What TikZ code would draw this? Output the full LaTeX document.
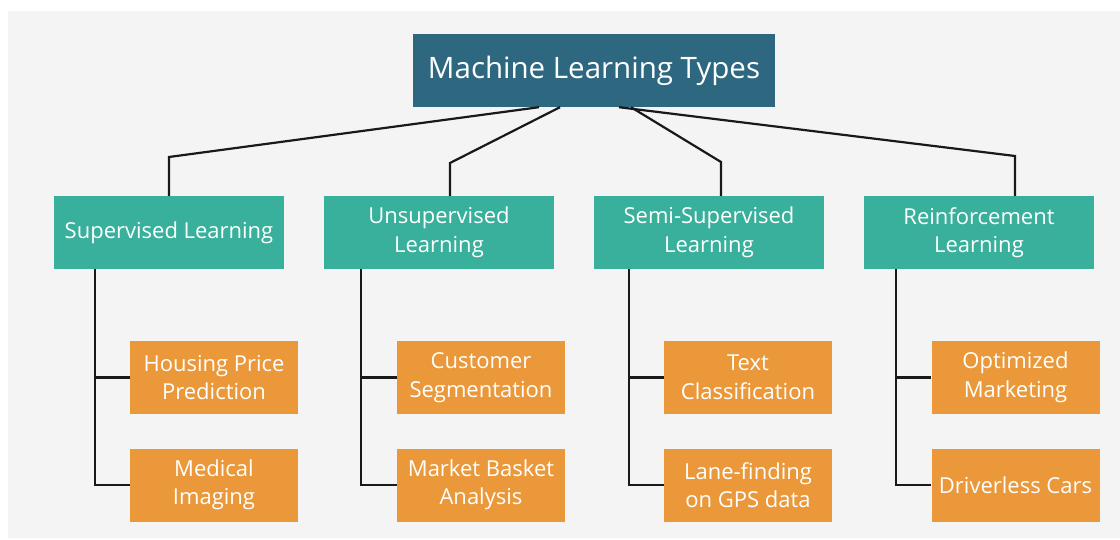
\documentclass[tikz,border=0pt]{standalone}
\usepackage{fontspec}
\setmainfont{Open Sans}
\definecolor{rootcolor}{RGB}{46,104,128}
\definecolor{typecolor}{RGB}{56,176,156}
\definecolor{appcolor}{RGB}{235,152,58}
\definecolor{bgcolor}{RGB}{244,244,244}
\tikzset{
  rootbox/.style={fill=rootcolor,text=white,minimum width=362pt,minimum height=73pt,inner sep=0pt,font=\fontsize{29.5}{34}\selectfont},
  typebox/.style={fill=typecolor,text=white,minimum width=230pt,minimum height=73pt,inner sep=0pt,align=center,font=\fontsize{22}{28.5}\selectfont},
  appbox/.style={fill=appcolor,text=white,minimum width=168pt,minimum height=73pt,inner sep=0pt,align=center,font=\fontsize{22}{28.5}\selectfont},
  link/.style={line width=2.2pt,black!90}
}

\begin{document}
\begin{tikzpicture}[x=1pt,y=-1pt]
\useasboundingbox[fill=white] (0,0) rectangle (1120,540);
\fill[bgcolor] (8,11) rectangle (1120,538);

% top
\node[rootbox] (root) at (594,70.5) {Machine Learning Types};

% learning types
\node[typebox] (sup) at (169,232.5) {Supervised Learning};
\node[typebox] (uns) at (439,232.5) {Unsupervised\\Learning};
\node[typebox] (semi) at (709,232.5) {Semi-Supervised\\Learning};
\node[typebox] (rein) at (979,232.5) {Reinforcement\\Learning};

% applications
\node[appbox] (hou) at (214,377.5) {Housing Price\\Prediction};
\node[appbox] (med) at (214,485) {Medical\\Imaging};
\node[appbox] (cus) at (481,377.5) {Customer\\Segmentation};
\node[appbox] (mba) at (481,485) {Market Basket\\Analysis};
\node[appbox] (txt) at (748,377.5) {Text\\Classification};
\node[appbox] (gps) at (748,485) {Lane-finding\\on GPS data};
\node[appbox] (opt) at (1015.5,377.5) {Optimized\\Marketing};
\node[appbox] (drv) at (1015.5,485) {Driverless Cars};

% links from the top
\draw[link] ([xshift=-55pt]root.south) -- (sup.north |- 0,157) -- (sup.north);
\draw[link] ([xshift=-34pt]root.south) -- ([xshift=11pt]uns.north |- 0,163) -- ([xshift=11pt]uns.north);
\draw[link] ([xshift=37pt]root.south) -- ([xshift=12pt]semi.north |- 0,162) -- ([xshift=12pt]semi.north);
\draw[link] ([xshift=25pt]root.south) -- ([xshift=36pt]rein.north |- 0,156) -- ([xshift=36pt]rein.north);

% links to the applications
\draw[link] ([xshift=-74pt]sup.south) |- (hou.west);
\draw[link] ([xshift=-74pt]sup.south) |- (med.west);
\draw[link] ([xshift=-78pt]uns.south) |- (cus.west);
\draw[link] ([xshift=-78pt]uns.south) |- (mba.west);
\draw[link] ([xshift=-80pt]semi.south) |- (txt.west);
\draw[link] ([xshift=-80pt]semi.south) |- (gps.west);
\draw[link] ([xshift=-83pt]rein.south) |- (opt.west);
\draw[link] ([xshift=-83pt]rein.south) |- (drv.west);
\end{tikzpicture}
\end{document}
